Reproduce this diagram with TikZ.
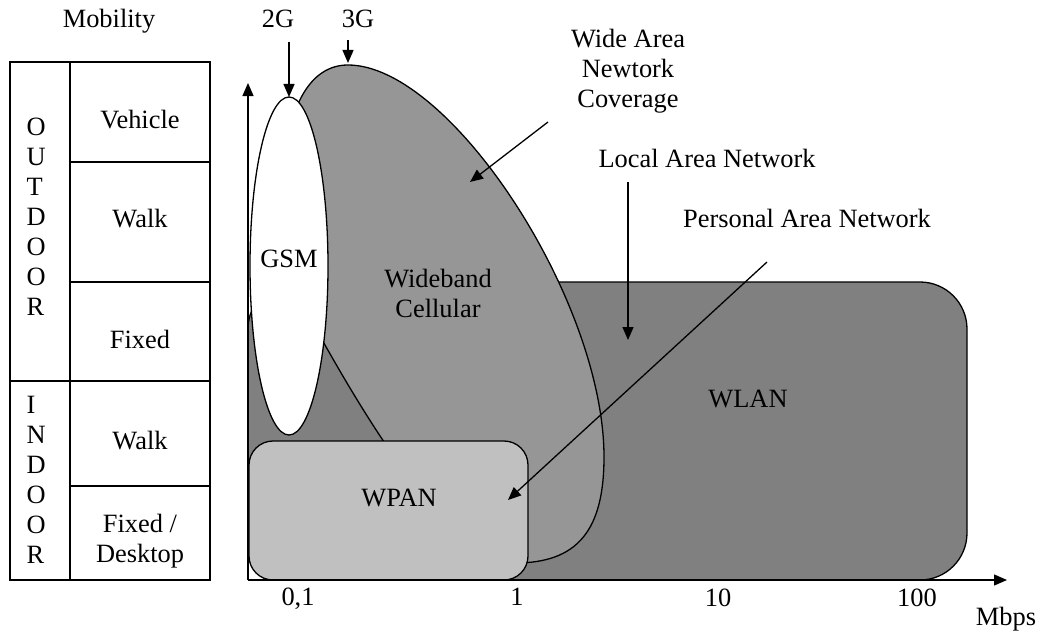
\documentclass[tikz,border=0pt]{standalone}
\usepackage{fontspec}
\setmainfont{Liberation Serif}
\usetikzlibrary{arrows.meta}
\definecolor{wlangray}{gray}{0.502}
\definecolor{cellgray}{gray}{0.588}
\definecolor{pangray}{gray}{0.753}

\begin{document}
\begin{tikzpicture}[x=1pt, y=-1pt, line width=1.3pt,
  lbl/.style={font=\fontsize{26.4}{30}\selectfont, inner sep=0pt, align=center},
  tip/.style={-{Triangle[length=13pt,width=11pt]}},
  region/.style={draw=black, line width=1.3pt}]
\useasboundingbox (0,0) rectangle (1047,634);

% ---------- mobility table ----------
\node[lbl, anchor=base] (mob) at (109,28) {Mobility};
\draw (10,62) rectangle (210,580);
\draw (70,62) -- (70,580);
\draw (70,162) -- (210,162);
\draw (70,282) -- (210,282);
\draw (10,381) -- (210,381);
\draw (70,486) -- (210,486);
\node[lbl, align=left, anchor=west] (outdoor) at (26,217) {O\\U\\T\\D\\O\\O\\R};
\node[lbl, align=left, anchor=west] (indoor) at (26,480) {I\\N\\D\\O\\O\\R};
\node[lbl, anchor=base] (vehicle) at (140,128) {Vehicle};
\node[lbl, anchor=base] (walkout) at (140,227) {Walk};
\node[lbl, anchor=base] (fixedout) at (140,348) {Fixed};
\node[lbl, anchor=base] (walkin) at (140,449) {Walk};
\node[lbl] (desktop) at (140,541) {Fixed /\\Desktop};

% ---------- coverage regions ----------
\draw[region, fill=wlangray, rounded corners=47pt] (248,282) rectangle (967,580);
\draw[region, fill=cellgray] (348,65) .. controls (450,65) and (604,300) .. (604,457)
  .. controls (604,531) and (577,563) .. (515,563)
  .. controls (455,563) and (373,430) .. (325,345)
  .. controls (265,240) and (270,65) .. (348,65) -- cycle;
\draw[region, fill=white] (289,266) ellipse [x radius=39pt, y radius=169pt];
\draw[region, fill=pangray, rounded corners=24pt] (249,441) rectangle (528,580);

\node[lbl, anchor=base] (gsm) at (289,267) {GSM};
\node[lbl] (cell) at (438,293) {Wideband\\Cellular};
\node[lbl, anchor=base] (wpan) at (399,506) {WPAN};
\node[lbl, anchor=base] (wlan) at (748,407) {WLAN};

% ---------- axes ----------
\coordinate (origin) at (248,580);
\coordinate (ytop) at (248,83);
\coordinate (xend) at (1007,580);
\draw[tip] (origin) -- (ytop);
\draw[tip] (origin) -- (xend);
\node[lbl, anchor=base] (t01) at (298,605) {0,1};
\node[lbl, anchor=base] (t1) at (517,605) {1};
\node[lbl, anchor=base] (t10) at (718,606) {10};
\node[lbl, anchor=base] (t100) at (917,606) {100};
\node[lbl, anchor=base] (mbps) at (1006,625) {Mbps};

% ---------- generation markers ----------
\node[lbl, anchor=base] (g2) at (278,28) {2G};
\node[lbl, anchor=base] (g3) at (358,28) {3G};
\coordinate (g2from) at (289,42);
\coordinate (g2to) at (289,97);
\coordinate (g3from) at (348,40);
\coordinate (g3to) at (348,63);
\draw[tip] (g2from) -- (g2to);
\draw[tip] (g3from) -- (g3to);

% ---------- callouts ----------
\node[lbl] (wan) at (628,71) {Wide Area\\Newtork\\Coverage};
\node[lbl, anchor=base] (lan) at (707,167) {Local Area Network};
\node[lbl, anchor=base] (pan) at (807,227) {Personal Area Network};
\coordinate (wanfrom) at (548,122);
\coordinate (wanto) at (470,182);
\coordinate (lanfrom) at (628,182);
\coordinate (lanto) at (628,340);
\coordinate (panfrom) at (767,262);
\coordinate (panto) at (508,500);
\draw[tip] (wanfrom) -- (wanto);
\draw[tip] (lanfrom) -- (lanto);
\draw[tip] (panfrom) -- (panto);
\end{tikzpicture}
\end{document}
